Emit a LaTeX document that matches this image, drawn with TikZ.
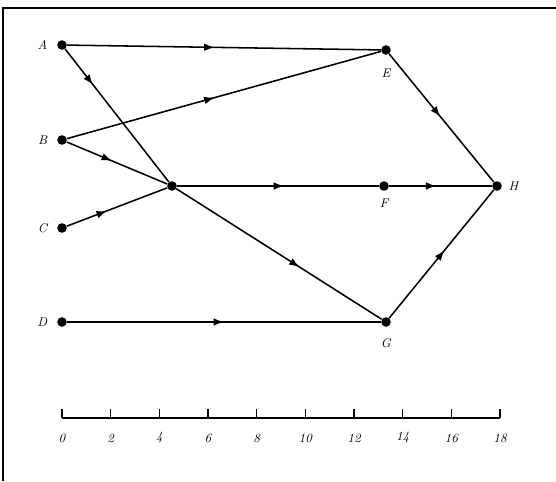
\documentclass[tikz,border=0pt]{standalone}
\usepackage{tikz}
\usetikzlibrary{arrows.meta, positioning, decorations.markings, calc}

\begin{document}
\begin{tikzpicture}[
  event/.style={circle, fill=black, inner sep=0pt, minimum size=0.24cm},
  lbl/.style={font=\small\itshape, inner sep=1pt},
  job/.style={line width=1.1pt, postaction={decorate},
              decoration={markings, mark=at position #1 with {\arrow{Latex[length=2.6mm,width=1.9mm]}}}},
  job/.default=0.5,
  frame/.style={line width=1.3pt}
]
\useasboundingbox (0,0) rectangle (13.9,-12.025);

% frame (top and left only)
\coordinate (fTL) at (0.075,-0.2);
\coordinate (fTR) at (13.9,-0.2);
\coordinate (fBL) at (0.075,-12.025);
\draw[frame] (fTR) -- (fTL) -- (fBL);

% Events
\node[event] (A) at (1.55,-1.125) {};
\node[event] (B) at (1.55,-3.5) {};
\node[event] (C) at (1.55,-5.7) {};
\node[event] (D) at (1.55,-8.05) {};
\node[event] (M) at (4.3,-4.65) {};
\node[event] (E) at (9.65,-1.25) {};
\node[event] (F) at (9.6,-4.65) {};
\node[event] (G) at (9.65,-8.05) {};
\node[event] (H) at (12.425,-4.65) {};

% Event labels
\node[lbl, left=0.2cm of A] (lA) {A};
\node[lbl, left=0.2cm of B] (lB) {B};
\node[lbl, left=0.2cm of C] (lC) {C};
\node[lbl, left=0.2cm of D] (lD) {D};
\node[lbl, below=0.3cm of E] (lE) {E};
\node[lbl, below=0.15cm of F] (lF) {F};
\node[lbl, below=0.25cm of G] (lG) {G};
\node[lbl, right=0.12cm of H] (lH) {H};

% Activities
\draw[job=0.47] (A) -- (E);
\draw[job=0.27] (A) -- (M);
\draw[job=0.47] (B) -- (E);
\draw[job=0.45] (B) -- (M);
\draw[job=0.4] (C) -- (M);
\draw[job=0.53] (M) -- (F);
\draw[job=0.6] (M) -- (G);
\draw[job=0.5] (D) -- (G);
\draw[job=0.46] (F) -- (H);
\draw[job=0.49] (E) -- (H);
\draw[job=0.53] (G) -- (H);

% Time scale
\coordinate (s0) at (1.55,-10.45);
\coordinate (s18) at (12.5,-10.45);
\draw[line width=1.2pt] (s0) -- (s18);
\foreach \t [count=\i from 0] in {0,2,...,18}{
  \draw[line width=0.8pt] ($(s0)+(\i*1.2167,0)$) -- ++(0,0.22);
  \node[lbl] (t\t) at ($(s0)+(\i*1.2167,-0.5)$) {\t};
}

\end{tikzpicture}
\end{document}
